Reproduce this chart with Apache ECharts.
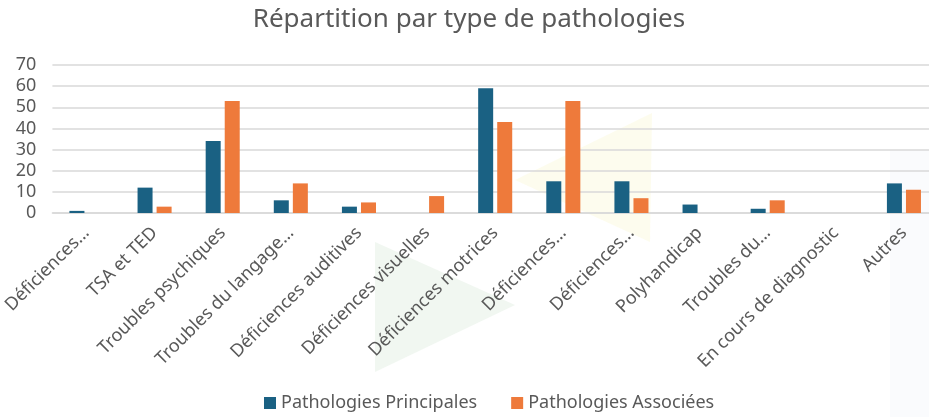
<!DOCTYPE html>
<html>
<head>
<meta charset="utf-8">
<script src="https://cdn.jsdelivr.net/npm/echarts@6/dist/echarts.min.js"></script>
<style>
  html, body { margin: 0; padding: 0; background: #fff; overflow: hidden; }
  /* le graphique d'origine est rogné à droite : zone un peu plus large que la fenêtre */
  #main { width: 938px; height: 417px; }
</style>
</head>
<body>
<div id="main"></div>
<script>
// données
var categories = ['Déficiences…', 'TSA et TED', 'Troubles psychiques', 'Troubles du langage…',
    'Déficiences auditives', 'Déficiences visuelles', 'Déficiences motrices', 'Déficiences…',
    'Déficiences…', 'Polyhandicap', 'Troubles du…', 'En cours de diagnostic', 'Autres'];
var principales = [1, 12, 34, 6, 3, 0, 59, 15, 15, 4, 2, 0, 14];
var associees = [0, 3, 53, 14, 5, 8, 43, 53, 7, 0, 6, 0, 11];
var yTicks = [0, 10, 20, 30, 40, 50, 60, 70];

var myChart = echarts.init(document.getElementById('main'));
var font = 'Noto Sans';

var option = {
    backgroundColor: '#fff',
    title: {
        text: 'Répartition par type de pathologies',
        left: 'center',
        top: 2,
        textStyle: { fontFamily: font, fontSize: 26, fontWeight: 'normal', color: '#595959' }
    },
    // décor de fond (triangles pâles)
    graphic: [
        { type: 'polygon', silent: true, z: -1, shape: { points: [[375, 242], [515, 305], [375, 372]] },
          style: { fill: 'rgba(200,225,200,0.25)' } },
        { type: 'polygon', silent: true, z: -1, shape: { points: [[515, 180], [652, 113], [650, 242]] },
          style: { fill: 'rgba(250,245,200,0.3)' } },
        { type: 'rect', silent: true, z: -1, shape: { x: 890, y: 150, width: 48, height: 267 },
          style: { fill: 'rgba(240,243,250,0.35)' } }
    ],
    legend: {
        bottom: 0,
        left: 259,
        itemWidth: 12,
        itemHeight: 12,
        itemGap: 34,
        itemTextGap: 3,
        icon: 'rect',
        textStyle: { fontFamily: font, fontSize: 18, color: '#595959' }
    },
    grid: { left: 51, right: 0, top: 65, bottom: 204, containLabel: false },
    xAxis: {
        type: 'category',
        data: categories,
        axisLine: { lineStyle: { color: '#d9d9d9', width: 1.5 } },
        axisTick: { show: false },
        axisLabel: {
            interval: 0,
            rotate: 45,
            margin: 17,
            fontFamily: font,
            fontSize: 18,
            color: '#595959'
        }
    },
    yAxis: {
        type: 'value',
        min: 0,
        max: yTicks[yTicks.length - 1],
        interval: 10,
        axisLine: { show: false },
        axisTick: { show: false },
        splitLine: { lineStyle: { color: '#d9d9d9', width: 1.5 } },
        axisLabel: { fontFamily: font, fontSize: 18, color: '#595959', margin: 16 }
    },
    series: [
        {
            name: 'Pathologies Principales',
            type: 'bar',
            data: principales,
            barWidth: 15,
            barGap: '27%',
            itemStyle: { color: '#1a6183' }
        },
        {
            name: 'Pathologies Associées',
            type: 'bar',
            data: associees,
            barWidth: 15,
            itemStyle: { color: '#ee7a3b' }
        }
    ]
};

myChart.setOption(option);
</script>
</body>
</html>
